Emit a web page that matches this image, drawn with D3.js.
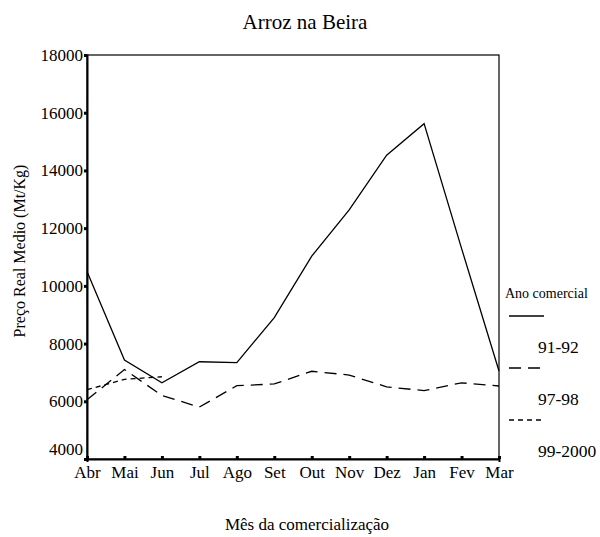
<!DOCTYPE html>
<html>
<head>
<meta charset="utf-8">
<script src="https://cdn.jsdelivr.net/npm/d3@7"></script>
<style>
  body { margin: 0; background: #fff; }
  svg text { font-family: "Liberation Serif", "Times New Roman", serif !important; fill: #000; }
</style>
</head>
<body>
<div class="chart"></div>
<script>
const width = 600, height = 537;
const margin = {top: 55, right: 101, bottom: 78, left: 87};

const months = ['Abr','Mai','Jun','Jul','Ago','Set','Out','Nov','Dez','Jan','Fev','Mar'];
const yTicks = [4000, 6000, 8000, 10000, 12000, 14000, 16000, 18000];
const seriesNames = ['91-92', '97-98', '99-2000'];
const v9192 = [10500, 7430, 6640, 7370, 7340, 8900, 11030, 12630, 14530, 15620, 11300, 7050];
const v9798 = [6050, 7100, 6200, 5800, 6540, 6600, 7040, 6910, 6500, 6370, 6640, 6530];
const v9900 = [6400, 6760, 6850];
const dashes = [null, '12,7', '5,4'];

const serif = '"Liberation Serif", "Times New Roman", serif';
const innerW = width - margin.left - margin.right;
const innerH = height - margin.top - margin.bottom;

const svg = d3.select('.chart').append('svg')
  .attr('width', width).attr('height', height)
  .attr('font-family', serif);

const x = d3.scalePoint().domain(months).range([margin.left, margin.left + innerW]);
const y = d3.scaleLinear().domain([4000, 18000]).range([margin.top + innerH, margin.top]);

// title
svg.append('text')
  .attr('x', 305).attr('y', 29)
  .attr('text-anchor', 'middle')
  .style('font-size', '21px')
  .text('Arroz na Beira');

// frame (top + right thin)
svg.append('rect')
  .attr('x', margin.left).attr('y', margin.top)
  .attr('width', innerW).attr('height', innerH)
  .attr('fill', 'none').attr('stroke', '#000').attr('stroke-width', 1.2);

// y axis
const yAxis = d3.axisLeft(y).tickValues(yTicks).tickSize(3).tickPadding(1).tickFormat(d3.format('d'));
const gy = svg.append('g').attr('transform', `translate(${margin.left},0)`).call(yAxis)
  .attr('font-family', serif).attr('font-size', 17);
gy.select('.domain').attr('stroke-width', 2);
gy.selectAll('.tick line').attr('stroke-width', 3);
gy.selectAll('.tick text').style('font-size', '17px')
  .attr('dy', d => d === 4000 ? '-0.25em' : '0.32em');

// x axis
const xAxis = d3.axisBottom(x).tickSize(3).tickPadding(4);
const gx = svg.append('g').attr('transform', `translate(0,${margin.top + innerH})`).call(xAxis)
  .attr('font-family', serif).attr('font-size', 17);
gx.select('.domain').attr('stroke-width', 2);
gx.selectAll('.tick line').attr('stroke-width', 3).attr('y1', -3).attr('y2', 0);
gx.selectAll('.tick text').style('font-size', '17px');

// axis labels
svg.append('text')
  .attr('transform', 'translate(25,251) rotate(-90)')
  .attr('text-anchor', 'middle')
  .style('font-size', '16px')
  .text('Preço Real Medio (Mt/Kg)');

svg.append('text')
  .attr('x', 307).attr('y', 530)
  .attr('text-anchor', 'middle')
  .style('font-size', '17px')
  .text('Mês da comercialização');

// lines
const line = d3.line().x((d, i) => x(months[i])).y(d => y(d));
[v9192, v9798, v9900].forEach((vals, i) => {
  svg.append('path')
    .datum(vals)
    .attr('d', line)
    .attr('fill', 'none')
    .attr('stroke', '#000')
    .attr('stroke-width', 1.3)
    .attr('stroke-dasharray', dashes[i]);
});

// legend
const lg = svg.append('g');
lg.append('text').attr('x', 505).attr('y', 298).style('font-size', '14px').text('Ano comercial');
seriesNames.forEach((name, i) => {
  const ly = 316 + i * 52;
  lg.append('line')
    .attr('x1', 509).attr('x2', 544).attr('y1', ly).attr('y2', ly)
    .attr('stroke', '#000').attr('stroke-width', 1.3)
    .attr('stroke-dasharray', dashes[i]);
  lg.append('text').attr('x', 538).attr('y', ly + 37).style('font-size', '17.5px').text(name);
});
</script>
</body>
</html>
